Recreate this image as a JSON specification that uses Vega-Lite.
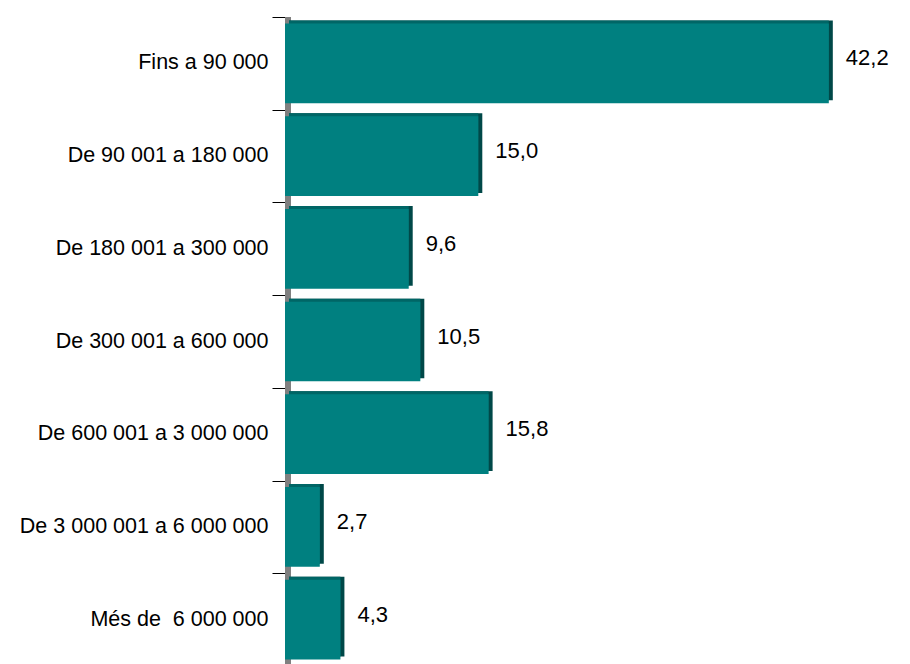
{
  "$schema": "https://vega.github.io/schema/vega-lite/v6.json",
  "width": 625,
  "height": 649,
  "autosize": {"type": "none"},
  "padding": {"left": 285, "top": 17, "right": 0, "bottom": 0},
  "background": "white",
  "config": {"view": {"stroke": null}, "font": "Liberation Sans"},
  "data": {"values": [
    {"cat": "Fins a 90 000", "value": 42.2, "label": "42,2"},
    {"cat": "De 90 001 a 180 000", "value": 15.0, "label": "15,0"},
    {"cat": "De 180 001 a 300 000", "value": 9.6, "label": "9,6"},
    {"cat": "De 300 001 a 600 000", "value": 10.5, "label": "10,5"},
    {"cat": "De 600 001 a 3 000 000", "value": 15.8, "label": "15,8"},
    {"cat": "De 3 000 001 a 6 000 000", "value": 2.7, "label": "2,7"},
    {"cat": "Més de \u00a06 000 000", "value": 4.3, "label": "4,3"}
  ]},
  "resolve": {"axis": {"y": "independent"}},
  "layer": [
    {
      "mark": {"type": "rule", "color": "#808080", "strokeWidth": 5, "xOffset": 3},
      "encoding": {"x": {"datum": 0, "type": "quantitative", "scale": {"domain": [0, 48.5], "nice": false, "zero": true}, "axis": null}}
    },
    {
      "mark": {"type": "bar", "color": "#004848", "xOffset": 4, "x2Offset": 4, "yOffset": -3},
      "encoding": {
        "x": {"field": "value", "type": "quantitative", "scale": {"domain": [0, 48.5], "nice": false}, "axis": null},
        "x2": {"datum": 0},
        "y": {"field": "cat", "type": "nominal", "sort": null, "scale": {"paddingInner": 0.14, "paddingOuter": 0.07}, "axis": null}
      }
    },
    {
      "mark": {"type": "bar", "color": "#006666", "x2Offset": 4, "yOffset": -3},
      "encoding": {
        "x": {"field": "value", "type": "quantitative", "scale": {"domain": [0, 48.5], "nice": false}, "axis": null},
        "x2": {"datum": 0},
        "y": {"field": "cat", "type": "nominal", "sort": null, "axis": null}
      }
    },
    {
      "mark": {"type": "bar", "color": "#008080"},
      "encoding": {
        "x": {"field": "value", "type": "quantitative", "scale": {"domain": [0, 48.5], "nice": false}, "axis": null},
        "x2": {"datum": 0},
        "y": {
          "field": "cat", "type": "nominal", "sort": null,
          "axis": {
            "orient": "left", "title": null, "ticks": false, "domain": false,
            "labelPadding": 17, "labelFontSize": 21.5, "labelColor": "black",
            "labelFont": "Liberation Sans", "labelLimit": 300
          }
        }
      }
    },
    {
      "mark": {"type": "text", "align": "left", "baseline": "middle", "dx": 17, "dy": -5, "fontSize": 22, "color": "black", "font": "Liberation Sans"},
      "encoding": {
        "x": {"field": "value", "type": "quantitative", "scale": {"domain": [0, 48.5], "nice": false}, "axis": null},
        "y": {"field": "cat", "type": "nominal", "sort": null, "axis": null},
        "text": {"field": "label"}
      }
    },
    {
      "mark": {"type": "tick", "opacity": 0},
      "encoding": {
        "x": {"datum": 0, "type": "quantitative", "scale": {"domain": [0, 48.5], "nice": false}, "axis": null},
        "y": {
          "field": "cat", "type": "nominal", "sort": null,
          "axis": {
            "orient": "left", "title": null, "labels": false, "ticks": true, "domain": true,
            "domainColor": "black", "tickColor": "black", "tickSize": 13,
            "bandPosition": 0, "tickOffset": -6.5
          }
        }
      }
    }
  ]
}
